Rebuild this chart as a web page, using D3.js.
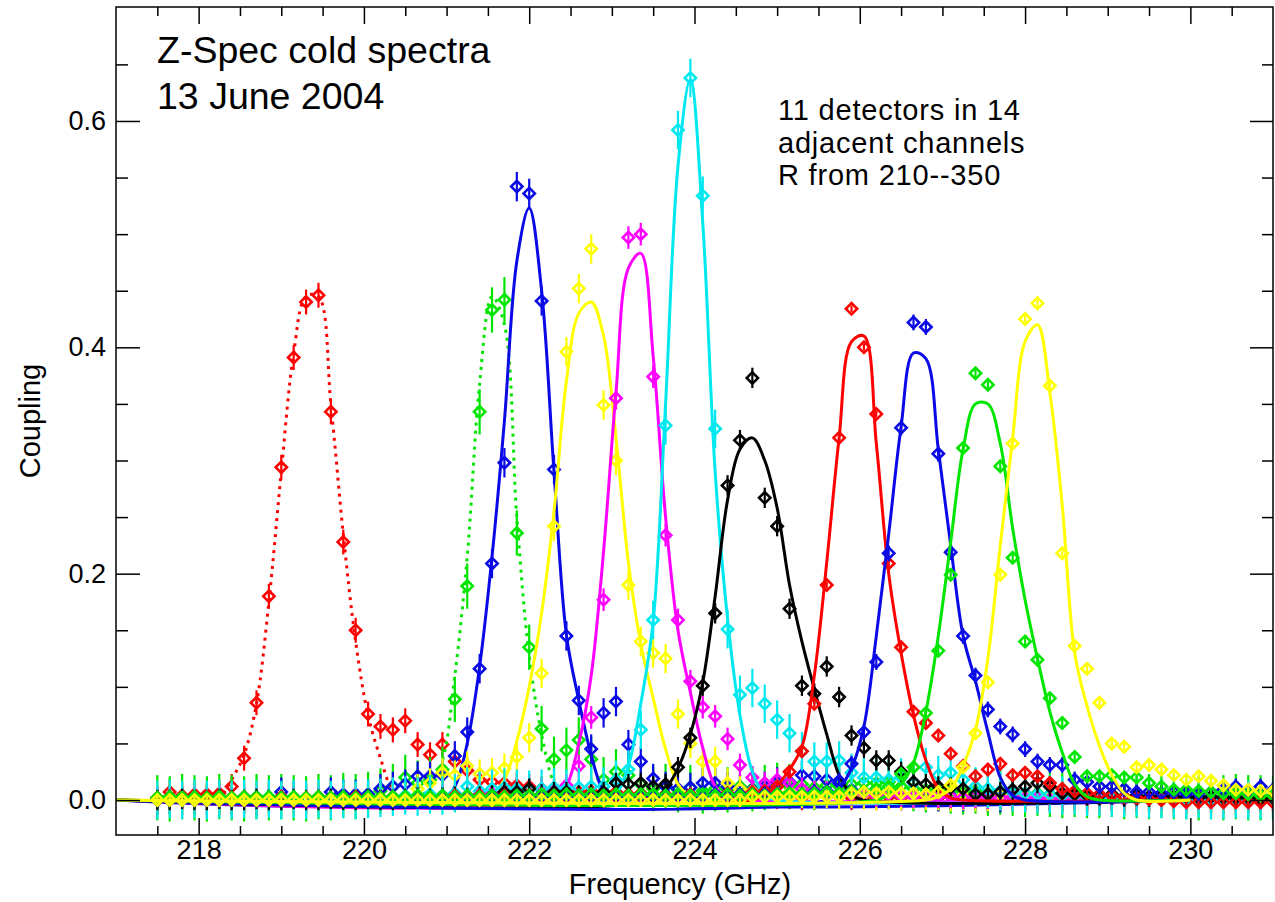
<!DOCTYPE html>
<html><head><meta charset="utf-8">
<script src="https://cdn.jsdelivr.net/npm/d3@7"></script>
<style>
body{margin:0;background:#fff}
svg{display:block}
text{font-family:"Liberation Sans",Arial,Helvetica,sans-serif;fill:#000}
</style>
</head><body>
<svg id="c" width="1275" height="902"></svg>
<script>
// ---------- DATA ----------
const freqs = [217.50,217.65,217.80,217.95,218.10,218.25,218.40,218.55,218.70,218.85,
219.00,219.15,219.30,219.45,219.60,219.75,219.90,220.05,220.20,220.35,
220.50,220.65,220.80,220.95,221.10,221.25,221.40,221.55,221.70,221.85,
222.00,222.15,222.30,222.45,222.60,222.75,222.90,223.05,223.20,223.35,
223.50,223.65,223.80,223.95,224.10,224.25,224.40,224.55,224.70,224.85,
225.00,225.15,225.30,225.45,225.60,225.75,225.90,226.05,226.20,226.35,
226.50,226.65,226.80,226.95,227.10,227.25,227.40,227.55,227.70,227.85,
228.00,228.15,228.30,228.45,228.60,228.75,228.90,229.05,229.20,229.35,
229.50,229.65,229.80,229.95,230.10,230.25,230.40,230.55,230.70,230.85,231.00];

const detColors = ["#ff0000","#00e600","#0a0ae6","#ffff00","#ff00ff","#00e8f0","#000000","#ff0000","#0a0ae6","#00e600","#ffff00"];
const detDotted = [true,true,false,false,false,false,false,false,false,false,false];
const detErr    = [0.011,0.02,0.013,0.013,0.01,0.017,0.009,0.003,0.007,0.004,0.003];

const ptsRed1 = [0,0.007,0.004,0.005,0.005,0.006,0.012,0.037,0.086,0.18,
0.294,0.391,0.44,0.446,0.343,0.228,0.15,0.076,0.065,0.062,
0.07,0.049,0.04,0.049,0.034,0.026,0.018,0.016,0.015,0.013,
0.012,0.01,0.008,0.009,0.007,0.008,0.006,0.007,0.005,0.006,
0.004,0.005,0.004,0.003,0.005,0.004,0.003,0.004,0.003,0.004,
0.003,0.003,0.002,0.003,0.004,0.003,0.002,0.003,0.002,0.003,
0.002,0.003,0.002,0.002,0.003,0.002,0.002,0.001,0.002,0.002,
0.001,0.002,0.001,0.001,0.002,0.001,0.001,0.002,0.001,0.001,
0.001,0,0.001,0,-0.001,0,-0.001,0,-0.001,0,-0.001];

const ptsGreen1 = [0.002,0.001,0.003,0.002,0.001,0.003,0.002,0.001,0.003,0.002,
0.003,0.002,0.001,0.003,0.002,0.004,0.003,0.005,0.008,0.012,
0.02,0.015,0.018,0.027,0.089,0.189,0.343,0.433,0.442,0.236,
0.135,0.063,0.036,0.044,0.053,0.036,0.018,0.025,0.022,0.014,
0.01,0.012,0.009,0.011,0.008,0.01,0.009,0.012,0.01,0.011,
0.013,0.012,0.014,0.011,0.013,0.012,0.014,0.015,0.015,0.016,
0.012,0.01,0.009,0.01,0.008,0.007,0.008,0.006,0.007,0.006,
0.005,0.006,0.005,0.004,0.005,0.004,0.004,0.005,0.003,0.004,
0.003,0.004,0.003,0.003,0.002,0.003,0.002,0.003,0.002,0.002,0.002];

const ptsBlue1 = [0,0.001,0,0.001,0,0.001,0,0.001,0,0.002,
0.007,0.002,0.001,0.002,0.007,0.005,0.005,0.005,0.01,0.012,
0.014,0.021,0.021,0.022,0.039,0.06,0.116,0.209,0.298,0.542,
0.536,0.441,0.292,0.145,0.088,0.045,0.077,0.087,0.049,0.034,
0.019,0.012,0.01,0.011,0.015,0.015,0.012,0.01,0.009,0.012,
0.016,0.016,0.022,0.021,0.018,0.015,0.009,0.007,0.006,0.005,
0.004,0.005,0.004,0.003,0.004,0.003,0.004,0.003,0.002,0.003,
0.003,0.002,0.003,0.002,0.003,0.002,0.002,0.003,0.002,0.002,
0.002,0.003,0.002,0.002,0.003,0.002,0.002,0.003,0.002,0.002,0.003];

const ptsYellow1 = [0.002,0.002,0.001,0.002,0.002,0.001,0.002,0.002,0.001,0.002,
0.002,0.001,0.002,0.002,0.001,0.002,0.002,0.002,0.002,0.003,
0.003,0.01,0.015,0.024,0.022,0.03,0.023,0.024,0.028,0.038,
0.055,0.112,0.242,0.396,0.452,0.487,0.349,0.3,0.19,0.14,
0.13,0.125,0.076,0.05,0.034,0.034,0.015,0.01,0.008,0.007,
0.006,0.007,0.006,0.005,0.006,0.005,0.006,0.005,0.004,0.005,
0.004,0.005,0.004,0.004,0.003,0.004,0.003,0.003,0.004,0.003,
0.003,0.002,0.003,0.002,0.002,0.003,0.002,0.002,0.002,0.002,
0.002,0.002,0.001,0.002,0.002,0.001,0.002,0.001,0.002,0.001,0.001];

const ptsMagenta = [0.001,0.002,0.001,0.002,0.001,0.002,0.001,0.002,0.001,0.002,
0.001,0.002,0.001,0.002,0.001,0.002,0.001,0.002,0.001,0.002,
0.002,0.003,0.002,0.004,0.003,0.004,0.005,0.006,0.007,0.008,
0.01,0.009,0.008,0.013,0.03,0.073,0.177,0.355,0.497,0.5,
0.374,0.234,0.159,0.105,0.082,0.074,0.054,0.031,0.02,0.015,
0.018,0.015,0.01,0.008,0.007,0.006,0.005,0.006,0.004,0.005,
0.004,0.003,0.004,0.003,0.003,0.002,0.003,0.002,0.002,0.003,
0.002,0.002,0.001,0.002,0.002,0.001,0.002,0.001,0.001,0.002,
0.001,0.001,0.002,0.001,0.001,0.001,0.002,0.001,0.001,0.001,0.001];

const ptsCyan = [0,0.001,0,0.001,0,0.001,0,0.001,0,0.001,
0,0.001,0,0.001,0,0.001,0,0.001,0.002,0.003,
0.004,0.003,0.005,0.004,0.006,0.012,0.008,0.01,0.011,0.01,
0.009,0.01,0.011,0.01,0.011,0.012,0.012,0.018,0.027,0.062,
0.159,0.331,0.592,0.638,0.534,0.328,0.151,0.093,0.099,0.085,
0.071,0.059,0.043,0.034,0.034,0.035,0.024,0.02,0.02,0.018,
0.02,0.015,0.029,0.022,0.024,0.018,0.012,0.01,0.008,0.007,
0.006,0.005,0.005,0.004,0.004,0.003,0.003,0.002,0.002,0.002,
0.001,0.001,0.001,0,0.001,0,0,0.001,0,0,0];

const ptsBlack = [0,0,0.001,0,0,0.001,0,0,0.001,0,
0,0.001,0,0,0.001,0,0,0.001,0,0,
0.001,0.002,0.001,0.002,0.003,0.002,0.003,0.004,0.007,0.007,
0.01,0.005,0.007,0.007,0.004,0.005,0.007,0.015,0.014,0.015,
0.012,0.014,0.029,0.055,0.101,0.165,0.278,0.318,0.373,0.267,
0.242,0.169,0.101,0.094,0.118,0.091,0.057,0.046,0.035,0.035,
0.025,0.016,0.014,0.012,0.011,0.01,0.005,0.005,0.007,0.009,
0.012,0.015,0.012,0.006,0.005,0.004,0.004,0.005,0.003,0.004,
0.003,0.004,0.003,0.003,0.002,0.003,0.002,0.002,0.002,0.001,0.002];

const ptsRed2 = [0.002,0.003,0.002,0.002,0.003,0.002,0.002,0.003,0.002,0.002,
0.003,0.002,0.002,0.003,0.002,0.002,0.003,0.002,0.002,0.003,
0.002,0.003,0.002,0.003,0.004,0.003,0.004,0.003,0.004,0.003,
0.004,0.003,0.004,0.003,0.004,0.003,0.004,0.003,0.004,0.003,
0.004,0.003,0.004,0.005,0.004,0.005,0.006,0.005,0.007,0.008,
0.012,0.025,0.043,0.085,0.19,0.32,0.434,0.4,0.341,0.209,
0.135,0.078,0.068,0.057,0.041,0.03,0.021,0.027,0.032,0.022,
0.024,0.021,0.015,0.01,0.008,0.006,0.005,0.004,0.003,0.002,
0.001,0,-0.001,-0.002,-0.002,-0.002,-0.002,-0.002,-0.002,-0.002,-0.002];

const ptsBlue2 = [0.001,0.002,0.001,0.002,0.001,0.002,0.001,0.002,0.001,0.002,
0.001,0.002,0.001,0.002,0.001,0.002,0.001,0.002,0.001,0.002,
0.002,0.003,0.002,0.003,0.002,0.003,0.002,0.003,0.002,0.003,
0.003,0.004,0.003,0.004,0.003,0.004,0.003,0.004,0.003,0.004,
0.004,0.003,0.004,0.003,0.004,0.005,0.004,0.005,0.004,0.005,
0.005,0.006,0.005,0.007,0.008,0.017,0.032,0.06,0.122,0.218,
0.329,0.422,0.418,0.306,0.219,0.145,0.11,0.08,0.065,0.058,
0.045,0.034,0.031,0.031,0.018,0.016,0.012,0.012,0.01,0.007,
0.007,0.006,0.007,0.006,0.006,0.007,0.009,0.012,0.008,0.012,0.009];

const ptsGreen2 = [0.002,0.003,0.002,0.003,0.002,0.003,0.002,0.003,0.002,0.003,
0.002,0.003,0.002,0.003,0.002,0.003,0.002,0.003,0.002,0.003,
0.003,0.004,0.003,0.004,0.003,0.004,0.003,0.004,0.003,0.004,
0.004,0.005,0.004,0.005,0.004,0.005,0.004,0.005,0.004,0.005,
0.005,0.004,0.005,0.004,0.005,0.004,0.005,0.004,0.005,0.004,
0.005,0.006,0.005,0.006,0.007,0.006,0.008,0.008,0.01,0.012,
0.023,0.029,0.077,0.132,0.199,0.311,0.377,0.367,0.295,0.214,
0.14,0.124,0.09,0.068,0.038,0.021,0.021,0.022,0.02,0.02,
0.015,0.012,0.009,0.009,0.008,0.007,0.006,0.006,0.005,0.004,0.004];

const ptsYellow2 = [0,0,0,0,0,0,0,0,0,0,
0,0,0,0,0,0,0,0,0,0,
0,0,0,0,0,0,0,0,0,0,
0,0,0,0,0,0,0,0,0,0,
0,0,0,0,0,0,0,0,0.003,0.003,
0.003,0.003,0.003,0.003,0.003,0.003,0.006,0.007,0.006,0.007,
0.006,0.006,0.005,0.007,0.013,0.029,0.059,0.104,0.199,0.315,
0.425,0.439,0.366,0.218,0.136,0.116,0.086,0.05,0.047,0.029,
0.031,0.027,0.022,0.018,0.021,0.017,0.013,0.009,0.009,0.008,0.008];

// fitted profiles, sampled on the frequency grid starting at fitStart[k]
const fitStart = [5,21,23,26,32,36,40,48,54,58,62];
const fitRed1    = [0,0.018,0.04,0.085,0.175,0.29,0.395,0.445,0.445,0.35,0.235,0.14,0.075,0.037,0.008,0];
const fitGreen1  = [0,0.012,0.035,0.11,0.215,0.368,0.445,0.42,0.25,0.127,0.058,0.015,0];
const fitBlue1   = [0,0.012,0.05,0.118,0.215,0.335,0.476,0.523,0.45,0.29,0.146,0.088,0.04,0.008,0];
const fitYellow1 = [0,0.005,0.018,0.052,0.1,0.165,0.255,0.37,0.43,0.44,0.41,0.32,0.21,0.138,0.09,0.045,0.014,0.003,0];
const fitMagenta = [0,0.012,0.05,0.11,0.22,0.36,0.47,0.483,0.392,0.25,0.15,0.095,0.046,0.012,0.002,0];
const fitCyan    = [0,0.005,0.03,0.085,0.158,0.35,0.56,0.637,0.51,0.29,0.16,0.075,0.025,0.004,0];
const fitBlack   = [0,0.01,0.028,0.058,0.104,0.18,0.265,0.31,0.32,0.3,0.258,0.19,0.14,0.098,0.058,0.022,0.005,0];
const fitRed2    = [0,0.005,0.013,0.027,0.047,0.11,0.21,0.32,0.405,0.41,0.315,0.2,0.13,0.075,0.035,0.01,0.002,0];
const fitBlue2   = [0,0.01,0.028,0.065,0.145,0.235,0.33,0.395,0.39,0.31,0.225,0.145,0.105,0.06,0.02,0.004,0];
const fitGreen2  = [0,0.005,0.014,0.033,0.078,0.145,0.228,0.31,0.35,0.35,0.315,0.24,0.177,0.125,0.078,0.042,0.014,0.003,0];
const fitYellow2 = [0,0.003,0.01,0.03,0.062,0.125,0.225,0.32,0.405,0.42,0.36,0.26,0.13,0.083,0.048,0.022,0.006,0];
const fitRange = [217.0, 230.0];

const xMajor = [218,220,222,224,226,228,230];
const xMinor = [217.5,218.5,219,219.5,220.5,221,221.5,222.5,223,223.5,224.5,225,225.5,226.5,227,227.5,228.5,229,229.5,230.5];
const yMajor = [0,0.2,0.4,0.6];
const yMinor = [0.05,0.1,0.15,0.25,0.3,0.35,0.45,0.5,0.55,0.65];
const yTickLabels = ["0.0","0.2","0.4","0.6"];
const titleLines = ["Z-Spec cold spectra","13 June 2004"];
const noteLines = ["11 detectors in 14","adjacent channels","R from 210--350"];
const xLabel = "Frequency (GHz)";
const yLabel = "Coupling";

// ---------- DRAW ----------
const FONT = '"Liberation Sans", Arial, Helvetica, sans-serif';
const L = 116, R = 1273, T = 7, B = 835;
const svg = d3.select("#c");
const x = d3.scaleLinear().domain([217, 231]).range([L, R]);
const y = d3.scaleLinear().domain([-0.0309, 0.7007]).range([B, T]);

svg.append("defs").append("clipPath").attr("id", "clip")
  .append("rect").attr("x", L).attr("y", T).attr("width", R - L).attr("height", B - T);
const plot = svg.append("g").attr("clip-path", "url(#clip)");

const allPts = [ptsRed1, ptsGreen1, ptsBlue1, ptsYellow1, ptsMagenta, ptsCyan, ptsBlack, ptsRed2, ptsBlue2, ptsGreen2, ptsYellow2];
const allFits = [fitRed1, fitGreen1, fitBlue1, fitYellow1, fitMagenta, fitCyan, fitBlack, fitRed2, fitBlue2, fitGreen2, fitYellow2];

const line = d3.line().x(d => x(d[0])).y(d => y(d[1])).curve(d3.curveCatmullRom.alpha(0.5));
const diamond = d3.symbol(d3.symbolSquare, 64);

detColors.forEach((col, k) => {
  const fp = allFits[k].map((v, j) => [freqs[fitStart[k] + j], v]);
  const lp = detDotted[k] ? fp : [[fitRange[0], 0], ...fp, [fitRange[1], 0]];
  plot.append("path").datum(lp)
    .attr("d", line)
    .attr("fill", "none")
    .attr("stroke", col)
    .attr("stroke-width", 3)
    .attr("stroke-dasharray", detDotted[k] ? "3,5" : null);

  const data = freqs.map((f, i) => ({ f, v: allPts[k][i] }));
  const g = plot.append("g");
  g.selectAll("line").data(data).join("line")
    .attr("x1", d => x(d.f)).attr("x2", d => x(d.f))
    .attr("y1", d => y(d.v - detErr[k])).attr("y2", d => y(d.v + detErr[k]))
    .attr("stroke", col).attr("stroke-width", 2.2);
  g.selectAll("path").data(data).join("path")
    .attr("d", diamond)
    .attr("transform", d => `translate(${x(d.f)},${y(d.v)}) rotate(45)`)
    .attr("fill", "none")
    .attr("stroke", col)
    .attr("stroke-width", 2.6);
});

// axes
function styleAxis(g) {
  g.select(".domain").remove();
  g.selectAll(".tick line").attr("stroke", "#000").attr("stroke-width", 1.5);
  g.attr("font-family", FONT).attr("font-size", 27);
  g.selectAll("text").attr("fill", "#000");
}
svg.append("g").attr("transform", `translate(0,${B})`)
  .call(d3.axisBottom(x).tickValues(xMajor).tickSize(-17).tickPadding(5).tickFormat(d3.format("d"))).call(styleAxis);
svg.append("g").attr("transform", `translate(0,${B})`)
  .call(d3.axisBottom(x).tickValues(xMinor).tickSize(-9).tickFormat("")).call(styleAxis);
svg.append("g").attr("transform", `translate(0,${T})`)
  .call(d3.axisTop(x).tickValues(xMajor).tickSize(-17).tickFormat("")).call(styleAxis);
svg.append("g").attr("transform", `translate(0,${T})`)
  .call(d3.axisTop(x).tickValues(xMinor).tickSize(-9).tickFormat("")).call(styleAxis);
svg.append("g").attr("transform", `translate(${L},0)`)
  .call(d3.axisLeft(y).tickValues(yMajor).tickSize(-24).tickPadding(10).tickFormat((d, i) => yTickLabels[i])).call(styleAxis);
svg.append("g").attr("transform", `translate(${L},0)`)
  .call(d3.axisLeft(y).tickValues(yMinor).tickSize(-12).tickFormat("")).call(styleAxis);
svg.append("g").attr("transform", `translate(${R},0)`)
  .call(d3.axisRight(y).tickValues(yMajor).tickSize(-23).tickFormat("")).call(styleAxis);
svg.append("g").attr("transform", `translate(${R},0)`)
  .call(d3.axisRight(y).tickValues(yMinor).tickSize(-11).tickFormat("")).call(styleAxis);

svg.append("rect").attr("x", L).attr("y", T).attr("width", R - L).attr("height", B - T)
  .attr("fill", "none").attr("stroke", "#000").attr("stroke-width", 1.5);

// texts
svg.append("text").attr("x", 680).attr("y", 894).attr("text-anchor", "middle")
  .attr("font-size", 29).text(xLabel);
svg.append("text").attr("transform", `translate(40,${(T + B) / 2}) rotate(-90)`).attr("text-anchor", "middle")
  .attr("font-size", 29).text(yLabel);
titleLines.forEach((t, i) => svg.append("text").attr("x", 157).attr("y", 63 + i * 46).attr("font-size", 37.5).text(t));
noteLines.forEach((t, i) => svg.append("text").attr("x", 778).attr("y", 120 + i * 32.5)
  .attr("font-size", 29).attr("letter-spacing", "0.8px").text(t));
</script>
</body></html>
